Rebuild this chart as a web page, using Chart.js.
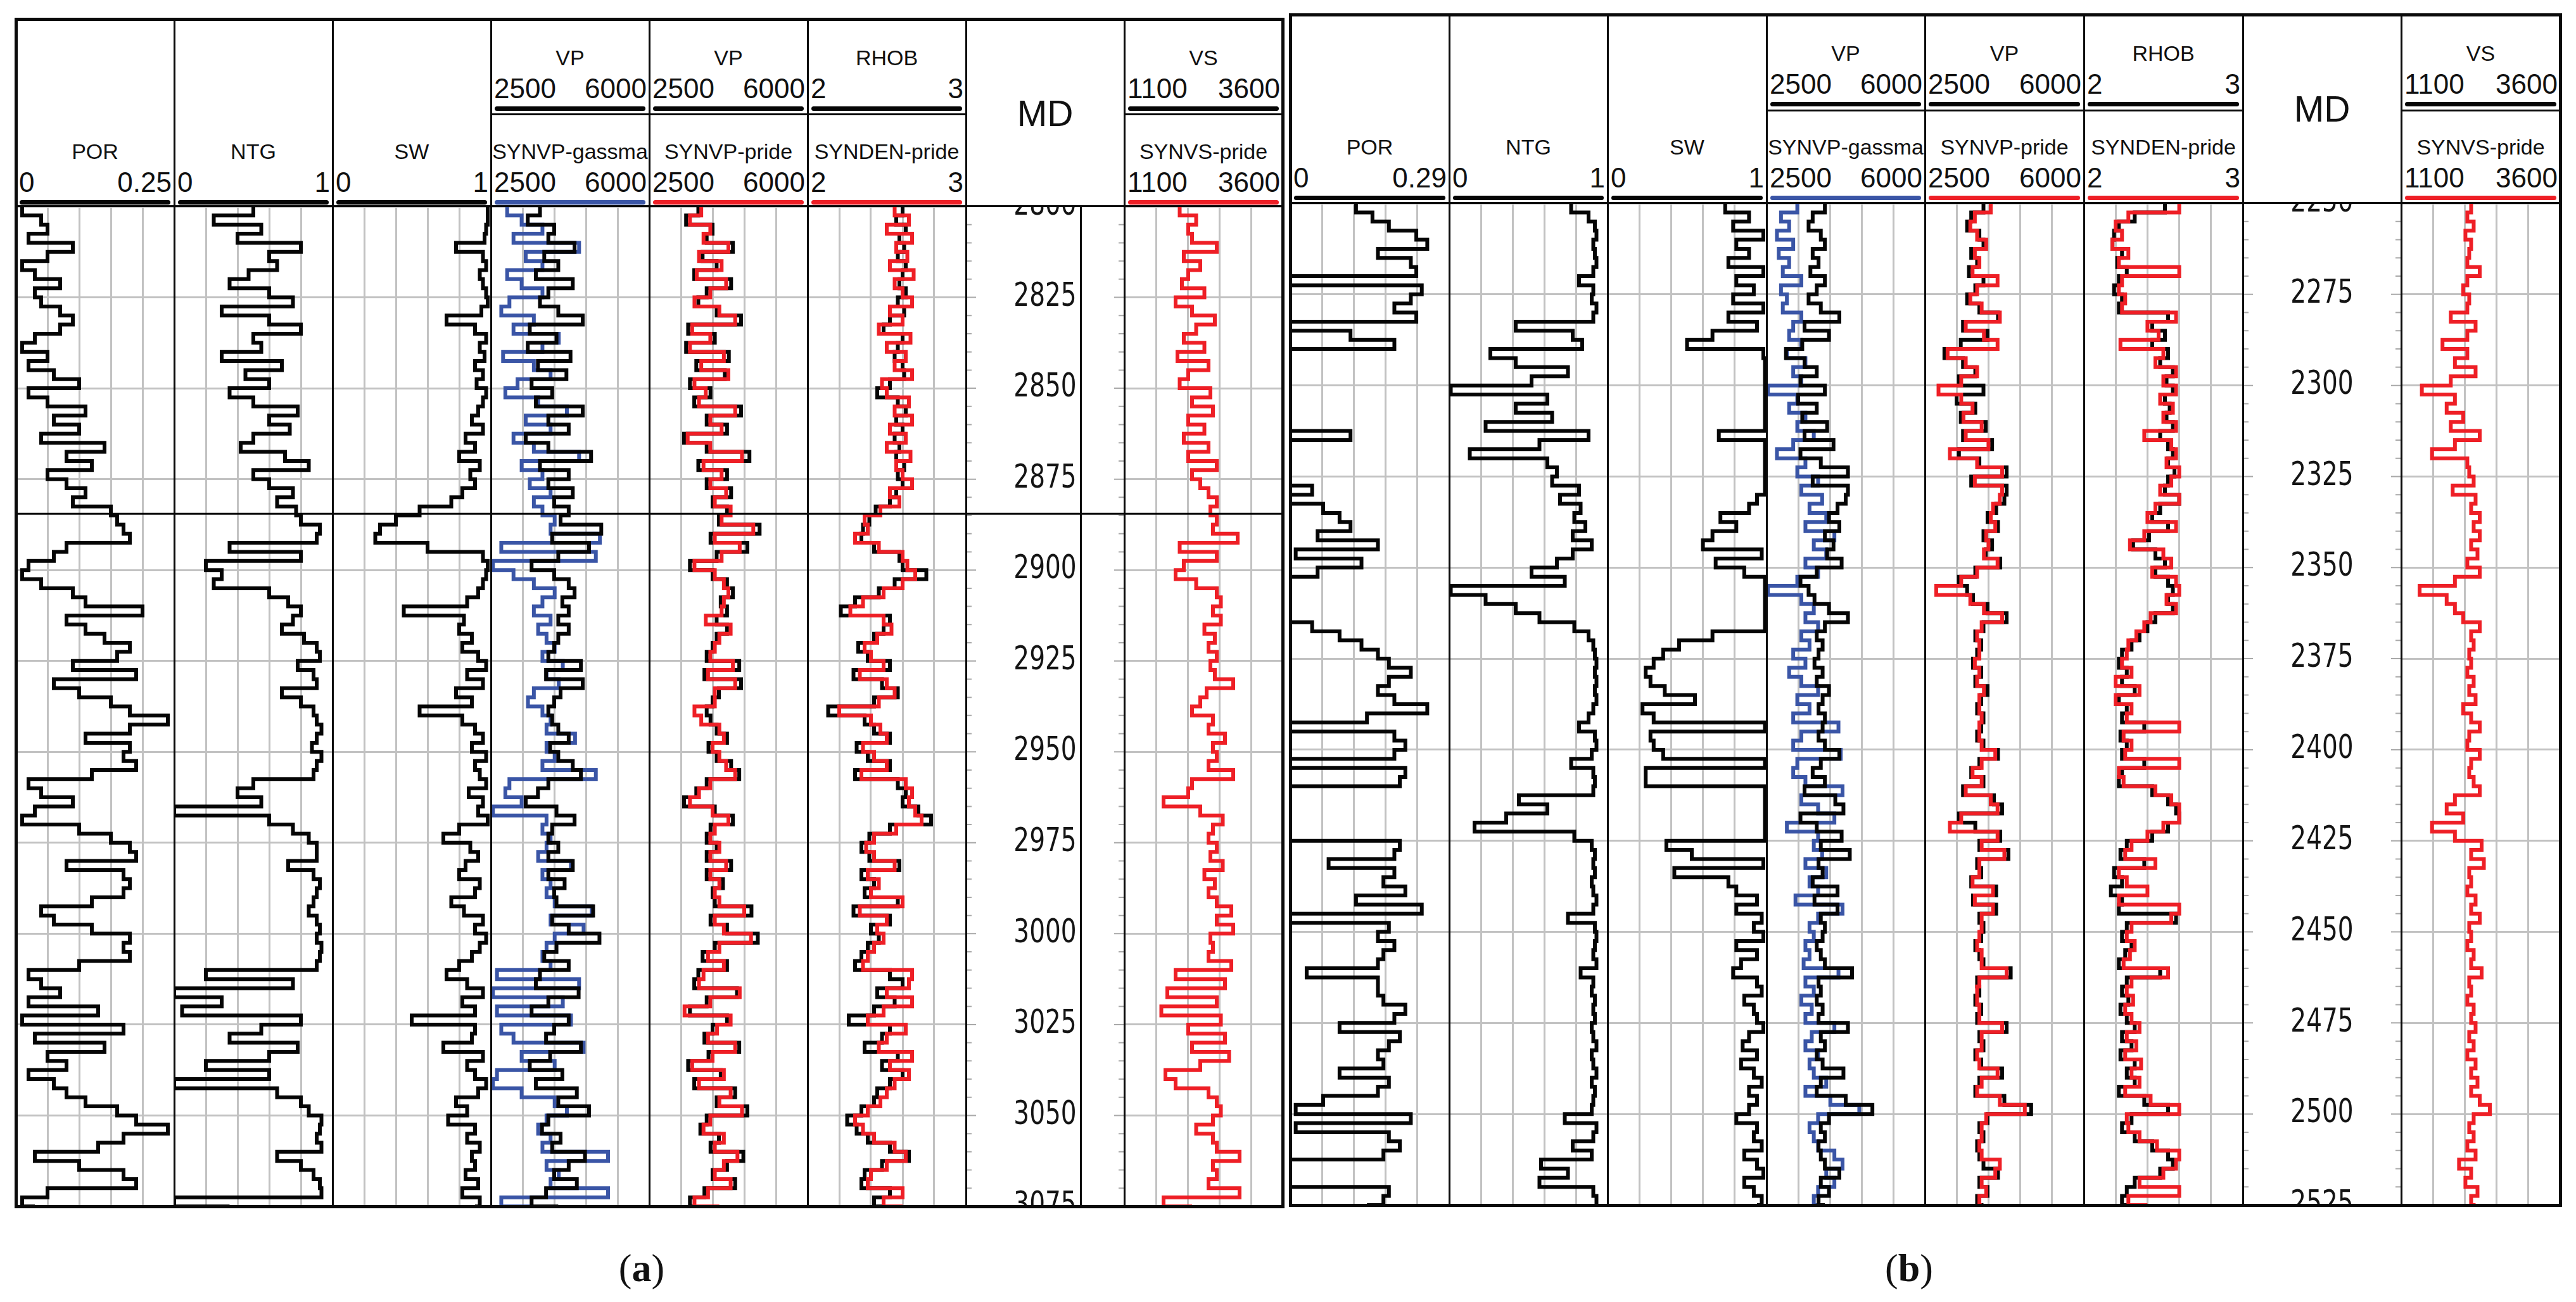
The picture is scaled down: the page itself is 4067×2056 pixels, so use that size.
<!DOCTYPE html>
<html>
<head>
<meta charset="utf-8">
<title>Well log comparison</title>
<script src="https://cdn.jsdelivr.net/npm/chart.js@4.4.1/dist/chart.umd.min.js"></script>
<style>
  body { margin: 0; background: #fff; width: 4067px; height: 2056px; position: relative; overflow: hidden;
         font-family: "Liberation Sans", Arial, sans-serif; color: #111; }
  .abs { position: absolute; }
  .txt { position: absolute; white-space: nowrap; line-height: 1; }
  .ln { position: absolute; background: #0a0a0a; }
  .bar { position: absolute; height: 7px; border-radius: 4px; }
  canvas { display: block; }
</style>
</head>
<body>
<script>
// ---------- depth sampling ----------
const depthStep = 2.5;
const topA = 2800, baseA = 3075;
const topB = 2250, baseB = 2525;
const zoneA = 2884.5;   // zone boundary line in well (a)

const mdLabelsA = ['2800','2825','2850','2875','2900','2925','2950','2975','3000','3025','3050','3075'];
const mdLabelsB = ['2250','2275','2300','2325','2350','2375','2400','2425','2450','2475','2500','2525'];

// ---------- well (a) : 2800-3075, every 2.5 m ----------
const porA = [
  0.01,0.04,0.05,0.02,0.09,0.05,0.01,0.03,0.07,0.03,
  0.04,0.07,0.09,0.07,0.03,0.01,0.05,0.02,0.06,0.1,
  0.02,0.05,0.11,0.06,0.1,0.04,0.14,0.08,0.12,0.05,
  0.08,0.11,0.09,0.15,0.16,0.17,0.18,0.08,0.06,0.02,
  0.01,0.04,0.09,0.11,0.2,0.08,0.11,0.14,0.18,0.16,
  0.09,0.19,0.06,0.1,0.15,0.18,0.24,0.18,0.11,0.18,
  0.17,0.19,0.12,0.02,0.04,0.09,0.03,0.01,0.1,0.15,
  0.18,0.19,0.08,0.17,0.18,0.17,0.12,0.04,0.06,0.12,
  0.18,0.17,0.18,0.1,0.02,0.04,0.07,0.02,0.13,0.01,
  0.17,0.03,0.14,0.05,0.08,0.02,0.06,0.08,0.11,0.16,
  0.19,0.24,0.17,0.13,0.03,0.1,0.17,0.19,0.05,0.01,
  0.03];
const ntgA = [
  0.5,0.25,0.55,0.4,0.8,0.6,0.65,0.47,0.35,0.6,
  0.75,0.3,0.6,0.8,0.5,0.55,0.3,0.68,0.45,0.6,
  0.35,0.5,0.78,0.6,0.73,0.5,0.42,0.7,0.85,0.5,
  0.6,0.75,0.65,0.77,0.8,0.92,0.9,0.35,0.8,0.2,
  0.3,0.25,0.6,0.72,0.8,0.75,0.68,0.82,0.9,0.92,
  0.78,0.88,0.9,0.68,0.8,0.88,0.9,0.93,0.9,0.87,
  0.93,0.9,0.88,0.5,0.4,0.55,0.0,0.6,0.75,0.85,
  0.9,0.9,0.72,0.88,0.92,0.9,0.88,0.85,0.9,0.92,
  0.9,0.93,0.92,0.9,0.2,0.75,0.0,0.3,0.05,0.8,
  0.55,0.35,0.78,0.6,0.2,0.6,0.0,0.65,0.8,0.85,
  0.93,0.92,0.9,0.93,0.65,0.8,0.88,0.92,0.93,0.0,
  0.35];
const swA = [
  0.98,0.98,0.97,0.96,0.78,0.95,0.97,0.93,0.95,0.97,
  0.98,0.94,0.72,0.9,0.97,0.93,0.96,0.9,0.95,0.91,
  0.97,0.95,0.92,0.88,0.95,0.84,0.9,0.8,0.93,0.87,
  0.9,0.82,0.75,0.55,0.4,0.3,0.27,0.6,0.95,0.98,
  0.97,0.95,0.92,0.85,0.45,0.83,0.8,0.88,0.82,0.92,
  0.97,0.85,0.95,0.78,0.88,0.55,0.82,0.9,0.95,0.88,
  0.97,0.9,0.93,0.97,0.86,0.95,0.92,0.98,0.8,0.7,
  0.87,0.92,0.84,0.8,0.93,0.9,0.75,0.83,0.95,0.9,
  0.97,0.93,0.88,0.8,0.72,0.85,0.95,0.82,0.9,0.5,
  0.9,0.88,0.7,0.95,0.85,0.9,0.97,0.92,0.78,0.85,
  0.73,0.9,0.85,0.93,0.88,0.9,0.84,0.92,0.82,0.93,
  0.9];
const vpA = [
  3585,3315,3900,3770,4350,3680,3990,3495,4310,3770,
  3585,3990,4530,3360,3950,3315,4260,3540,4170,3400,
  3855,3495,4530,3770,4220,3270,3770,4715,3585,4220,
  3770,4310,3900,4220,4040,4940,3855,4670,3990,3400,
  3900,4220,4350,4080,4220,3990,4220,3990,3900,3770,
  4490,3720,4530,4040,3900,3770,3855,3990,4220,3810,
  3990,4310,4490,3770,3540,3270,3950,4350,3855,3770,
  3990,3770,4310,3770,4130,3900,3950,4760,3855,4220,
  4900,3950,3680,4220,3585,3495,4440,3770,3400,4220,
  3900,3720,4490,3810,3360,4080,3495,4400,3990,4670,
  3770,3630,4040,3855,4580,4220,3900,4400,3720,3400,
  3990];
const gassmaA = [
  2860,3180,3640,3000,4450,3270,3640,2860,3180,3640,
  2910,2730,3450,3000,4000,3640,2770,3450,3820,3090,
  2820,3545,4180,3270,3820,3000,3450,4450,3180,3640,
  3360,3820,3450,3640,3910,3820,4910,2730,4820,2545,
  3000,3450,3910,3640,3450,3820,3545,3730,3910,3640,
  4090,3730,4000,3450,3320,3640,3820,3730,4360,3730,
  3910,3640,4820,2910,2820,3180,2545,3730,3640,3820,
  3730,3545,4270,3640,3820,3730,3910,4730,3820,4550,
  3910,3730,3640,3820,2635,4450,2545,4090,2635,4270,
  2730,3000,4550,3180,3910,2635,2545,3180,3910,4180,
  3730,3545,3820,3640,5090,3730,4000,3820,5090,2730,
  3820];
const synVpA = [
  3650,3400,3850,3700,4250,3600,4100,3550,4200,3850,
  3500,4050,4400,3450,3850,3400,4150,3650,4250,3500,
  3750,3600,4400,3850,4100,3350,3850,4550,3700,4100,
  3850,4200,3950,4300,4100,4800,3950,4500,4100,3500,
  3950,4150,4250,4150,4100,3750,4300,4050,3950,3850,
  4350,3800,4400,3950,3950,3500,3650,4050,4150,3900,
  4050,4200,4400,3850,3600,3400,3900,4250,3950,3850,
  4050,3850,4200,3850,4050,3950,4050,4600,3950,4150,
  4750,4050,3800,4150,3700,3600,4500,3850,3280,4300,
  4000,3800,4400,3900,3450,4150,3600,4300,4050,4550,
  3850,3700,4150,3950,4450,4150,3950,4300,3800,3500,
  4050];
const rhobA = [
  2.6,2.56,2.62,2.58,2.61,2.57,2.62,2.6,2.58,2.62,
  2.57,2.61,2.52,2.48,2.6,2.57,2.55,2.6,2.61,2.52,
  2.44,2.57,2.62,2.56,2.6,2.55,2.58,2.56,2.61,2.57,
  2.6,2.56,2.52,2.43,2.39,2.35,2.34,2.42,2.58,2.6,
  2.75,2.55,2.45,2.3,2.21,2.52,2.48,2.42,2.32,2.38,
  2.52,2.29,2.47,2.57,2.42,2.13,2.36,2.42,2.52,2.31,
  2.38,2.52,2.3,2.57,2.62,2.6,2.7,2.78,2.52,2.39,
  2.34,2.39,2.58,2.34,2.42,2.36,2.57,2.29,2.52,2.4,
  2.45,2.38,2.34,2.3,2.52,2.6,2.44,2.55,2.42,2.26,
  2.52,2.47,2.36,2.57,2.47,2.6,2.52,2.44,2.42,2.34,
  2.25,2.31,2.38,2.52,2.64,2.47,2.36,2.34,2.52,2.42,
  2.52];
const synDenA = [
  2.55,2.64,2.5,2.66,2.56,2.63,2.52,2.67,2.55,2.6,
  2.66,2.52,2.6,2.45,2.65,2.5,2.62,2.55,2.66,2.47,
  2.5,2.64,2.55,2.66,2.52,2.62,2.5,2.65,2.56,2.6,
  2.66,2.52,2.58,2.46,2.36,2.38,2.3,2.45,2.6,2.63,
  2.68,2.6,2.48,2.35,2.27,2.48,2.53,2.44,2.36,2.4,
  2.48,2.33,2.5,2.55,2.45,2.2,2.4,2.46,2.5,2.35,
  2.42,2.5,2.34,2.62,2.66,2.64,2.68,2.72,2.56,2.42,
  2.37,2.42,2.55,2.38,2.45,2.4,2.6,2.33,2.5,2.44,
  2.48,2.42,2.38,2.35,2.66,2.64,2.5,2.66,2.48,2.38,
  2.62,2.5,2.45,2.66,2.52,2.64,2.55,2.5,2.46,2.38,
  2.3,2.35,2.42,2.55,2.62,2.5,2.4,2.38,2.6,2.48,
  2.6];
const synVsA = [
  1975,2235,2110,2170,2560,2040,2300,2110,2010,2365,
  1910,2170,2530,2235,2040,2365,1940,2430,2110,1975,
  2460,2170,2500,2110,2365,2040,2430,2110,2560,2170,
  2300,2430,2560,2460,2560,2500,2890,1975,2560,2040,
  1910,2235,2560,2625,2500,2625,2365,2530,2430,2560,
  2460,2530,2820,2400,2300,2170,2500,2430,2690,2500,
  2560,2430,2820,2170,2110,1720,2300,2655,2500,2430,
  2560,2460,2655,2365,2530,2430,2560,2790,2560,2820,
  2460,2500,2430,2790,1910,2690,1780,2560,1685,2625,
  2110,2690,2170,2755,2300,1750,1910,2430,2560,2625,
  2500,2235,2500,2560,2920,2500,2560,2430,2920,1720,
  2170];

// ---------- well (b) : 2250-2525, every 2.5 m ----------
const porB = [
  0.12,0.15,0.18,0.23,0.25,0.16,0.22,0.23,0.0,0.24,
  0.22,0.19,0.23,0.0,0.11,0.19,0.0,0.0,0.0,0.0,
  0.0,0.0,0.0,0.0,0.0,0.11,0.0,0.0,0.0,0.0,
  0.0,0.04,0.0,0.06,0.09,0.11,0.05,0.16,0.01,0.13,
  0.05,0.0,0.0,0.0,0.0,0.0,0.04,0.09,0.13,0.16,
  0.18,0.22,0.18,0.16,0.19,0.25,0.14,0.0,0.19,0.21,
  0.19,0.0,0.21,0.2,0.0,0.0,0.0,0.0,0.0,0.0,
  0.2,0.19,0.07,0.19,0.17,0.21,0.12,0.24,0.0,0.18,
  0.16,0.19,0.17,0.16,0.03,0.16,0.16,0.17,0.21,0.19,
  0.09,0.2,0.18,0.16,0.17,0.09,0.18,0.16,0.06,0.01,
  0.22,0.01,0.18,0.2,0.17,0.0,0.0,0.0,0.18,0.17,
  0.14];
const ntgB = [
  0.77,0.88,0.92,0.93,0.91,0.92,0.93,0.91,0.82,0.91,
  0.9,0.93,0.91,0.42,0.78,0.84,0.26,0.42,0.75,0.52,
  0.01,0.62,0.42,0.65,0.23,0.88,0.57,0.13,0.62,0.68,
  0.65,0.82,0.7,0.83,0.79,0.86,0.78,0.9,0.78,0.68,
  0.52,0.73,0.01,0.23,0.42,0.57,0.79,0.88,0.91,0.92,
  0.93,0.92,0.93,0.92,0.93,0.91,0.88,0.82,0.92,0.93,
  0.9,0.77,0.91,0.92,0.91,0.44,0.62,0.36,0.16,0.79,
  0.9,0.92,0.91,0.92,0.9,0.91,0.93,0.91,0.75,0.92,
  0.93,0.92,0.91,0.93,0.83,0.91,0.9,0.92,0.91,0.92,
  0.9,0.91,0.93,0.9,0.91,0.93,0.9,0.92,0.91,0.9,
  0.73,0.93,0.91,0.78,0.9,0.58,0.75,0.57,0.91,0.93,
  0.92];
const swB = [
  0.74,0.89,0.79,0.98,0.81,0.89,0.76,0.98,0.81,0.92,
  0.79,0.98,0.76,0.94,0.66,0.5,0.98,0.99,0.99,0.99,
  0.99,0.99,0.99,0.99,0.99,0.7,0.99,0.99,0.99,0.99,
  0.99,0.99,0.94,0.89,0.71,0.81,0.66,0.6,0.97,0.68,
  0.86,0.99,0.99,0.99,0.99,0.99,0.99,0.66,0.45,0.35,
  0.29,0.24,0.27,0.36,0.55,0.22,0.29,0.99,0.27,0.29,
  0.35,0.99,0.24,0.24,0.99,0.99,0.99,0.99,0.99,0.99,
  0.37,0.53,0.98,0.42,0.76,0.81,0.94,0.81,0.97,0.92,
  0.98,0.81,0.94,0.84,0.79,0.94,0.97,0.86,0.92,0.94,
  0.98,0.89,0.85,0.94,0.84,0.92,0.97,0.89,0.94,0.89,
  0.81,0.94,0.92,0.97,0.86,0.94,0.98,0.86,0.92,0.97,
  0.94];
const vpB = [
  3790,3520,3430,3700,3790,3520,3650,3470,3790,3610,
  3430,3700,4110,3340,3880,3290,2930,3340,3610,3250,
  3790,3200,3610,3290,3840,3340,3980,3250,3700,4300,
  3520,4300,4250,4070,3880,4110,3790,3980,3840,4160,
  3610,3250,3430,3560,3880,4300,3790,3610,3740,3650,
  3560,3740,3610,3880,3740,3650,3790,3740,3650,3790,
  4110,3700,3520,3790,3340,4020,4200,3250,3610,4160,
  3700,4340,3650,3740,3520,4070,3560,4070,3700,3790,
  3740,3610,3700,3790,4390,3650,3700,3610,3740,3650,
  4300,3700,3790,3610,3740,4200,3700,3610,4250,4840,
  3880,3700,3790,3650,3700,3790,4110,3700,3880,3650,
  3790];
const gassmaB = [
  3180,2820,3000,2730,3090,2770,3000,2860,3270,2820,
  2950,2860,3270,3090,3000,3270,2950,3360,3090,3270,
  2530,3180,3000,3360,3180,3545,3090,2730,3360,3180,
  3640,3270,3730,3450,3820,3360,4000,3545,3820,3360,
  3640,3180,2530,3270,3545,3360,3640,3270,3450,3090,
  3360,3000,3270,3640,3180,3450,3090,4090,3270,3090,
  4140,3180,3090,3360,4180,3270,3640,4000,2950,3640,
  3545,3730,3360,3820,3450,3640,3140,4180,3640,3450,
  3545,3360,3450,3320,4090,3360,3545,3270,3500,3360,
  4000,3500,3360,3640,3450,3545,3820,3360,3910,4550,
  3640,3450,3545,3640,4000,4180,3820,4000,3640,3545,
  3640];
const synVpB = [
  3950,3600,3500,3650,3850,3600,3700,3550,4100,3650,
  3500,3750,4150,3400,3800,4100,3000,3400,3650,3300,
  2800,3300,3550,3350,3750,3400,3900,3050,3650,4200,
  3600,4200,4150,4000,3950,4050,3850,3900,3800,4100,
  3650,3300,2750,3500,3800,4200,3750,3650,3700,3700,
  3600,3700,3650,3800,3700,3700,3750,3700,3700,3750,
  4050,3750,3550,3750,3400,3950,4100,3300,3050,4100,
  3750,4250,3700,3700,3550,4000,3600,4000,3750,3750,
  3700,3650,3750,3750,4300,3700,3650,3650,3700,3700,
  4200,3750,3750,3650,3700,4100,3750,3650,4150,4700,
  3850,3750,3750,3700,3750,4150,4050,3750,3850,3700,
  3750];
const rhobB = [
  2.51,2.32,2.22,2.19,2.18,2.24,2.21,2.27,2.22,2.19,
  2.24,2.22,2.53,2.43,2.51,2.43,2.53,2.48,2.56,2.52,
  2.56,2.51,2.54,2.52,2.56,2.48,2.53,2.56,2.53,2.57,
  2.53,2.51,2.6,2.48,2.43,2.53,2.41,2.31,2.45,2.51,
  2.45,2.53,2.56,2.53,2.56,2.45,2.4,2.35,2.3,2.24,
  2.22,2.27,2.24,2.32,2.22,2.27,2.24,2.38,2.23,2.27,
  2.24,2.38,2.24,2.22,2.43,2.53,2.58,2.6,2.53,2.43,
  2.27,2.23,2.38,2.19,2.24,2.17,2.24,2.22,2.58,2.27,
  2.24,2.3,2.26,2.22,2.48,2.27,2.24,2.28,2.23,2.27,
  2.32,2.24,2.3,2.23,2.32,2.27,2.32,2.22,2.38,2.53,
  2.3,2.24,2.32,2.43,2.53,2.56,2.48,2.32,2.27,2.24,
  2.38];
const synDenB = [
  2.6,2.28,2.2,2.24,2.18,2.28,2.22,2.6,2.24,2.22,
  2.26,2.24,2.58,2.4,2.47,2.23,2.5,2.45,2.58,2.5,
  2.58,2.48,2.56,2.5,2.58,2.38,2.55,2.58,2.52,2.6,
  2.55,2.48,2.6,2.45,2.4,2.58,2.38,2.29,2.5,2.55,
  2.43,2.58,2.6,2.52,2.58,2.42,2.38,2.33,2.28,2.27,
  2.24,2.3,2.2,2.35,2.2,2.3,2.27,2.6,2.25,2.3,
  2.26,2.6,2.22,2.25,2.45,2.55,2.6,2.6,2.5,2.4,
  2.3,2.26,2.45,2.22,2.27,2.4,2.22,2.6,2.55,2.3,
  2.27,2.32,2.29,2.25,2.53,2.3,2.27,2.31,2.26,2.3,
  2.35,2.27,2.33,2.26,2.36,2.3,2.35,2.26,2.42,2.6,
  2.27,2.28,2.35,2.46,2.6,2.58,2.5,2.35,2.6,2.28,
  2.4];
const synVsB = [
  2200,2140,2240,2110,2200,2170,2140,2335,2140,2075,
  2170,2140,1880,2270,2140,1750,2140,1945,2270,1880,
  1425,1945,1815,2075,1880,2335,1945,1585,2140,2170,
  2240,1910,2270,2200,2335,2240,2335,2200,2300,2140,
  2335,1945,1390,1815,1945,2075,2335,2200,2240,2170,
  2200,2140,2240,2170,2270,2075,2200,2335,2170,2140,
  2335,2200,2170,2240,2335,1945,1815,2075,1585,1945,
  2365,2200,2400,2170,2200,2140,2270,2200,2335,2170,
  2200,2140,2240,2200,2365,2170,2200,2140,2240,2200,
  2270,2170,2240,2140,2270,2200,2300,2200,2335,2495,
  2240,2170,2240,2140,2270,2010,2200,2110,2300,2200,
  2270];

// ---------- styling ----------
const BLACK = '#050505', BLUE = '#3a55a6', RED = '#ee1f26', GRID = '#c2c2c2';

function series(top, values) {
  return values.map((v, i) => ({ x: v, y: top + i * depthStep }));
}

// all logs drawn as stepped (blocky) traces, as in the digitised logs
function curve(top, values, color) {
  return { data: series(top, values), borderColor: color, borderWidth: 6, showLine: true,
           pointRadius: 0, stepped: 'after', fill: false, borderJoinStyle: 'miter' };
}

function divTicks(min, max) {
  return function (scale) {
    const out = [];
    for (let k = 0; k <= 5; k++) out.push({ value: min + (max - min) * k / 5 });
    scale.ticks = out;
  };
}

const zonePlugin = {
  id: 'zone',
  afterDatasetsDraw(chart, args, opts) {
    if (opts.depth == null) return;
    const { ctx, chartArea: a } = chart;
    const y = chart.scales.y.getPixelForValue(opts.depth);
    ctx.save();
    ctx.strokeStyle = BLACK; ctx.lineWidth = 3;
    ctx.beginPath(); ctx.moveTo(a.left, y); ctx.lineTo(a.right, y); ctx.stroke();
    ctx.restore();
  }
};

const depthLabelPlugin = {
  id: 'depthLabels',
  afterDraw(chart, args, opts) {
    if (!opts.labels) return;
    const { ctx, chartArea: a } = chart;
    const ys = chart.scales.y;
    ctx.save();
    ctx.beginPath(); ctx.rect(a.left, a.top, a.right - a.left, a.bottom - a.top); ctx.clip();
    // small depth ticks on the track edges
    ctx.strokeStyle = '#a9a9a9'; ctx.lineWidth = 2;
    for (let d = ys.min; d <= ys.max; d += 5) {
      const y = ys.getPixelForValue(d);
      const major = (d - ys.min) % 25 === 0;
      const len = major ? 16 : 9;
      ctx.beginPath();
      ctx.moveTo(a.left, y); ctx.lineTo(a.left + len, y);
      ctx.moveTo(a.right, y); ctx.lineTo(a.right - len, y);
      ctx.stroke();
    }
    ctx.fillStyle = '#141414';
    ctx.font = '39px "DejaVu Sans", Verdana, sans-serif';
    ctx.textAlign = 'center'; ctx.textBaseline = 'middle';
    const cx = (a.left + a.right) / 2;
    opts.labels.forEach(lbl => {
      const y = ys.getPixelForValue(Number(lbl));
      ctx.save(); ctx.translate(cx, y); ctx.scale(1, 1.3);
      ctx.fillText(lbl, 0, 0);
      ctx.restore();
    });
    ctx.restore();
  }
};

function el(cls, css, html) {
  const d = document.createElement('div');
  d.className = cls;
  Object.assign(d.style, css);
  if (html != null) d.innerHTML = html;
  document.body.appendChild(d);
  return d;
}
function line(x, y, w, h) { el('ln', { left: x + 'px', top: y + 'px', width: w + 'px', height: h + 'px' }); }

function headerBlock(x, w, yName, yNum, yBar, h) {
  el('txt', { left: (x + w / 2) + 'px', top: yName + 'px', fontSize: '34px', transform: 'translate(-50%,-50%)' }, h.name);
  el('txt', { left: (x + 5) + 'px', top: yNum + 'px', fontSize: '44px', transform: 'translate(0,-50%)' }, h.lo);
  el('txt', { left: (x + w - 4) + 'px', top: yNum + 'px', fontSize: '44px', transform: 'translate(-100%,-50%)' }, h.hi);
  el('bar', { left: (x + 6) + 'px', top: (yBar - 3.5) + 'px', width: (w - 12) + 'px', background: h.color });
}

function buildPanel(p) {
  const W = p.trackW;
  const edge = i => Math.round(p.left + i * W);
  const plotH = p.plotBottom - p.plotTop;
  const right = edge(p.tracks.length);

  p.tracks.forEach((t, i) => {
    const x = edge(i), w = edge(i + 1) - x;
    const holder = el('abs', { left: x + 'px', top: p.plotTop + 'px', width: w + 'px', height: plotH + 'px' });
    const cv = document.createElement('canvas');
    cv.width = w; cv.height = plotH;
    holder.appendChild(cv);

    const xr = t.range || [0, 1];
    new Chart(cv, {
      type: 'scatter',
      data: { datasets: t.series || [] },
      options: {
        responsive: false, animation: false, devicePixelRatio: 1,
        layout: { padding: 0 },
        plugins: {
          legend: { display: false }, tooltip: { enabled: false },
          zone: { depth: p.zone },
          depthLabels: { labels: t.md ? p.mdLabels : null }
        },
        scales: {
          x: { type: 'linear', position: 'top', min: xr[0], max: xr[1],
               afterBuildTicks: divTicks(xr[0], xr[1]),
               ticks: { display: false },
               grid: { display: !t.md, color: GRID, lineWidth: 3, drawTicks: false },
               border: { display: false } },
          y: { type: 'linear', reverse: true, min: p.dTop, max: p.dBase,
               afterBuildTicks: s => { s.ticks = p.mdLabels.map(v => ({ value: Number(v) })); },
               ticks: { display: false },
               grid: { display: !t.md, color: GRID, lineWidth: 3, drawTicks: false },
               border: { display: false } }
        }
      },
      plugins: [zonePlugin, depthLabelPlugin]
    });

    const o = p.outerTop;
    if (t.top) headerBlock(x, w, o + 61, o + 110, o + 141, t.top);
    if (t.bottom) headerBlock(x, w, o + 209, o + 258, o + 289, t.bottom);
    if (t.top) line(x, p.midY - 1.5, w, 3);
    if (t.md) {
      el('txt', { left: (x + w / 2) + 'px', top: (o + 149) + 'px', fontSize: '57px', transform: 'translate(-50%,-50%)' }, 'MD');
      if (p.mdInner) line(x + p.mdInner, p.headerBottom, 3, p.plotBottom - p.headerBottom);
    }
    if (i > 0) line(x - 1.5, p.outerTop, 3, p.plotBottom - p.outerTop);
  });

  line(edge(0), p.headerBottom - 1.5, right - edge(0), 3);
  // outer frame
  line(edge(0) - 2.5, p.outerTop - 2.5, right - edge(0) + 5, 5);
  line(edge(0) - 2.5, p.plotBottom - 2.5, right - edge(0) + 5, 5);
  line(edge(0) - 2.5, p.outerTop - 2.5, 5, p.plotBottom - p.outerTop + 5);
  line(right - 2.5, p.outerTop - 2.5, 5, p.plotBottom - p.outerTop + 5);

  el('txt', { left: p.capX + 'px', top: '2002px', fontSize: '62px', fontFamily: '"Liberation Serif", "Times New Roman", serif',
              transform: 'translate(-50%,-50%)' }, p.caption);
}

function tracksFor(top, d) {
  return [
    { range: d.porRange, bottom: { name: 'POR', lo: '0', hi: d.porHi, color: BLACK },
      series: [curve(top, d.por, BLACK)] },
    { range: [0, 1], bottom: { name: 'NTG', lo: '0', hi: '1', color: BLACK },
      series: [curve(top, d.ntg, BLACK)] },
    { range: [0, 1], bottom: { name: 'SW', lo: '0', hi: '1', color: BLACK },
      series: [curve(top, d.sw, BLACK)] },
    { range: [2500, 6000], top: { name: 'VP', lo: '2500', hi: '6000', color: BLACK },
      bottom: { name: 'SYNVP-gassma', lo: '2500', hi: '6000', color: BLUE },
      series: [curve(top, d.vp, BLACK), curve(top, d.gassma, BLUE)] },
    { range: [2500, 6000], top: { name: 'VP', lo: '2500', hi: '6000', color: BLACK },
      bottom: { name: 'SYNVP-pride', lo: '2500', hi: '6000', color: RED },
      series: [curve(top, d.synVp, RED), curve(top, d.vp, BLACK)] },
    { range: [2, 3], top: { name: 'RHOB', lo: '2', hi: '3', color: BLACK },
      bottom: { name: 'SYNDEN-pride', lo: '2', hi: '3', color: RED },
      series: [curve(top, d.synDen, RED), curve(top, d.rhob, BLACK)] },
    { md: true },
    { range: [1100, 3600], top: { name: 'VS', lo: '1100', hi: '3600', color: BLACK },
      bottom: { name: 'SYNVS-pride', lo: '1100', hi: '3600', color: RED },
      series: [curve(top, d.synVs, RED)] }
  ];
}

buildPanel({
  left: 25, trackW: 250, outerTop: 30, midY: 180, headerBottom: 325, plotTop: 326, plotBottom: 1905,
  dTop: topA, dBase: baseA, mdLabels: mdLabelsA, zone: zoneA, mdInner: 180,
  capX: 1013, caption: '(<b>a</b>)',
  tracks: tracksFor(topA, { por: porA, porRange: [0, 0.25], porHi: '0.25', ntg: ntgA, sw: swA, vp: vpA,
    gassma: gassmaA, synVp: synVpA, rhob: rhobA, synDen: synDenA, synVs: synVsA })
});

buildPanel({
  left: 2037, trackW: 250.6, outerTop: 23, midY: 174, headerBottom: 320, plotTop: 321, plotBottom: 1903,
  dTop: topB, dBase: baseB, mdLabels: mdLabelsB, zone: null, mdInner: null,
  capX: 3014, caption: '(<b>b</b>)',
  tracks: tracksFor(topB, { por: porB, porRange: [0, 0.29], porHi: '0.29', ntg: ntgB, sw: swB, vp: vpB,
    gassma: gassmaB, synVp: synVpB, rhob: rhobB, synDen: synDenB, synVs: synVsB })
});
</script>
</body>
</html>
